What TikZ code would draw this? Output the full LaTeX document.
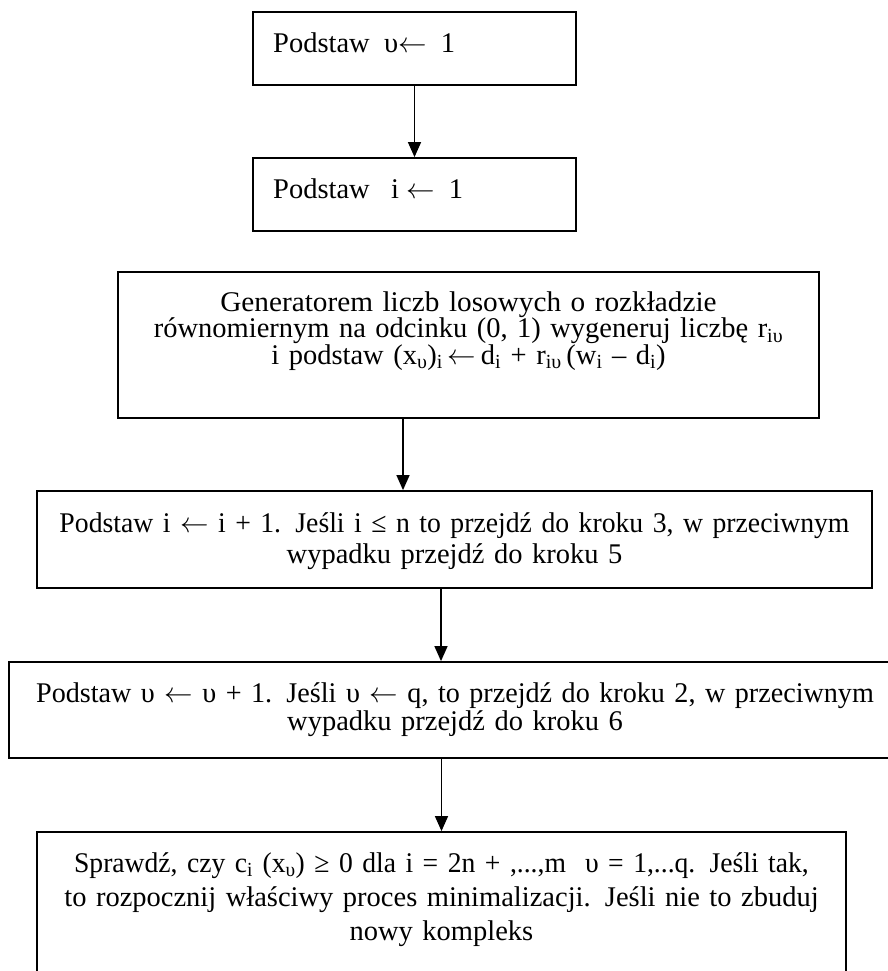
\RequirePackage{fix-cm}
\documentclass[tikz,border=0pt]{standalone}
\usepackage{fontspec}
\setmainfont{Liberation Serif}
\newfontfamily\fwide[FakeStretch=1.027]{Liberation Serif}
\newfontfamily\fnarA[FakeStretch=0.972]{Liberation Serif}
\newfontfamily\fnarB[FakeStretch=0.987]{Liberation Serif}
\newfontfamily\fnarC[FakeStretch=0.969]{Liberation Serif}
\usetikzlibrary{arrows.meta}
\newcommand\sbs[1]{\textsubscript{#1}}
\newcommand\la{$\leftarrow$}
\begin{document}
\begin{tikzpicture}[x=1pt,y=-1pt,
  box/.style={draw, line width=1.8pt, rectangle, inner sep=0pt},
  txt/.style={inner sep=0pt, font=\fontsize{28.5pt}{30pt}\selectfont},
  ctxt/.style={txt, text width=1000pt, align=center, anchor=base},
  lsk/.style={font=\fontsize{28.5pt}{#1}\selectfont},
  arr/.style={line width=1.4pt, -{Triangle[length=15pt,width=13pt]}}]
\useasboundingbox (0,0) rectangle (887,971);
% boxes
\node[box, minimum width=323pt, minimum height=73pt] (b1) at (414.5,48.5) {};
\node[box, minimum width=323pt, minimum height=73pt] (b2) at (414.5,194.5) {};
\node[box, minimum width=701pt, minimum height=146pt] (b3) at (468.5,345) {};
\node[box, minimum width=835pt, minimum height=97pt] (b4) at (454.5,539.5) {};
\node[box, minimum width=892pt, minimum height=96pt] (b5) at (455,710) {};
\node[box, minimum width=809pt, minimum height=178pt] (b6) at (441.5,921) {};
% texts
\node[txt, anchor=base west] (t1) at (273,53) {Podstaw\ \ υ\la\ \ 1};
\node[txt, anchor=base west] (t2) at (273,198) {Podstaw\ \ \ i \la\ \ 1};
\node[ctxt, lsk=26.8pt] (t3) at (468.5,311) {{\fwide Generatorem liczb losowych o rozkładzie}\\
  równomiernym na odcinku (0, 1) wygeneruj liczbę r\sbs{iυ}\\
  i podstaw (x\sbs{υ})\sbs{i}\,\la\,d\sbs{i} + r\sbs{iυ}\,(w\sbs{i} – d\sbs{i})};
\node[ctxt, lsk=31pt] (t4) at (454.5,532) {{\fnarA Podstaw i \la\ i + 1. Jeśli i ≤ n to przejdź do kroku 3, w przeciwnym}\\
  wypadku przejdź do kroku 5};
\node[ctxt, lsk=28pt] (t5) at (455,702) {{\fnarB Podstaw υ \la\ υ + 1. Jeśli υ \la\ q, to przejdź do kroku 2, w przeciwnym}\\
  wypadku przejdź do kroku 6};
\node[ctxt, lsk=34pt] (t6) at (441.5,872) {{\fnarC Sprawdź, czy c\sbs{i} (x\sbs{υ}) ≥ 0 dla i = 2n + ,...,m\ \ υ = 1,...q. Jeśli tak,}\\
  to rozpocznij właściwy proces minimalizacji. Jeśli nie to zbuduj\\
  nowy kompleks};
% connectors
\coordinate (x34) at (403,0);
\coordinate (x45) at (441,0);
\draw[arr] (b1) -- (b2);
\draw[arr] (b3.south -| x34) -- (b4.north -| x34);
\draw[arr] (b4.south -| x45) -- (b5.north -| x45);
\draw[arr] (b5.south -| b6.north) -- (b6.north);
\end{tikzpicture}
\end{document}
